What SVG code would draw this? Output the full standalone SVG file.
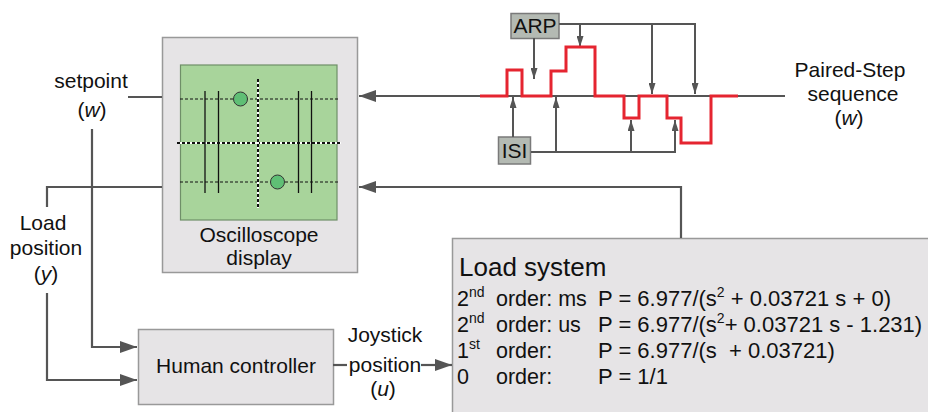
<svg xmlns="http://www.w3.org/2000/svg" width="928" height="412" viewBox="0 0 928 412">
<style>
text{font-family:"Liberation Sans",Arial,sans-serif;fill:#111;}
.lbl{font-size:21px;text-anchor:middle;}
.box{fill:#e6e4e6;stroke:#999;stroke-width:1.5;}
.tag{fill:#b4bab3;stroke:#7a7a7a;stroke-width:1.5;}
.con{fill:none;stroke:#555;stroke-width:2.2;}
.thin{fill:none;stroke:#555;stroke-width:2;}
.row{font-size:21.5px;}
.eq{font-size:22px;}
.sup{font-size:14px;}
</style>
<defs>
<marker id="big" markerUnits="userSpaceOnUse" markerWidth="18" markerHeight="12" refX="17" refY="6" orient="auto">
<path d="M0,0 L17,6 L0,12 Z" fill="#555"/>
</marker>
<marker id="small" markerUnits="userSpaceOnUse" markerWidth="12" markerHeight="7" refX="11" refY="3.5" orient="auto">
<path d="M0,0 L11,3.5 L0,7 Z" fill="#555"/>
</marker>
</defs>
<rect width="928" height="412" fill="#fff"/>

<g id="scope">
<rect class="box" x="162.5" y="37.5" width="195" height="235"/>
<rect x="180.5" y="65" width="156.5" height="155" fill="#a8d49b" stroke="#6f8f68" stroke-width="1.2"/>
<line x1="180" y1="99" x2="338" y2="99" stroke="#111" stroke-width="1" stroke-dasharray="3,2"/>
<line x1="180" y1="182" x2="338" y2="182" stroke="#111" stroke-width="1" stroke-dasharray="3,2"/>
<line x1="177" y1="143" x2="341" y2="143" stroke="#fff" stroke-width="2"/>
<line x1="177" y1="143" x2="341" y2="143" stroke="#111" stroke-width="2" stroke-dasharray="3,2"/>
<line x1="258" y1="79" x2="258" y2="208" stroke="#fff" stroke-width="2"/>
<line x1="258" y1="79" x2="258" y2="208" stroke="#111" stroke-width="2" stroke-dasharray="3,2"/>
<g stroke="#111" stroke-width="1.3">
<line x1="205" y1="91" x2="205" y2="193"/>
<line x1="218.5" y1="91" x2="218.5" y2="193"/>
<line x1="298.5" y1="91" x2="298.5" y2="193"/>
<line x1="311.5" y1="91" x2="311.5" y2="193"/>
</g>
<circle cx="240.5" cy="99" r="7" fill="#5fbf75" stroke="#333" stroke-width="1"/>
<circle cx="277.5" cy="182" r="7" fill="#5fbf75" stroke="#333" stroke-width="1"/>
<text class="lbl" x="259" y="242">Oscilloscope</text>
<text class="lbl" x="259" y="265">display</text>
</g>

<g id="human">
<rect class="box" x="138.5" y="329.5" width="195" height="75"/>
<text class="lbl" x="236" y="373">Human controller</text>
</g>

<g id="load">
<rect class="box" x="452.5" y="238.5" width="480" height="180"/>
<text x="459" y="276" style="font-size:26px">Load system</text>
<g class="row">
<text x="457" y="306">2<tspan dy="-9" class="sup">nd</tspan></text>
<text x="496" y="306">order: ms</text>
<text class="eq" x="598" y="306">P = 6.977/(s<tspan dy="-9" class="sup">2</tspan><tspan dy="9"> + 0.03721 s + 0)</tspan></text>
<text x="457" y="332">2<tspan dy="-9" class="sup">nd</tspan></text>
<text x="496" y="332">order: us</text>
<text class="eq" x="598" y="332">P = 6.977/(s<tspan dy="-9" class="sup">2</tspan><tspan dy="9">+ 0.03721 s - 1.231)</tspan></text>
<text x="457" y="358">1<tspan dy="-9" class="sup">st</tspan></text>
<text x="496" y="358">order:</text>
<text class="eq" x="598" y="358" xml:space="preserve">P = 6.977/(s  + 0.03721)</text>
<text x="457" y="384">0</text>
<text x="496" y="384">order:</text>
<text class="eq" x="598" y="384">P = 1/1</text>
</g>
</g>

<g id="arp">
<rect class="tag" x="511" y="13.5" width="48" height="25"/>
<text class="lbl" x="535" y="33">ARP</text>
</g>
<g id="isi">
<rect class="tag" x="498.5" y="137" width="32" height="27"/>
<text class="lbl" x="514.5" y="158">ISI</text>
</g>

<g id="labels">
<text class="lbl" x="91" y="88">setpoint</text>
<text class="lbl" x="92" y="117">(<tspan font-style="italic">w</tspan>)</text>
<text class="lbl" x="43" y="230">Load</text>
<text class="lbl" x="46" y="255">position</text>
<text class="lbl" x="46" y="281">(<tspan font-style="italic">y</tspan>)</text>
<text class="lbl" x="385" y="342">Joystick</text>
<text class="lbl" x="385" y="372">position</text>
<text class="lbl" x="383" y="396">(<tspan font-style="italic">u</tspan>)</text>
<text class="lbl" x="850" y="77">Paired-Step</text>
<text class="lbl" x="853" y="101">sequence</text>
<text class="lbl" x="849" y="125">(<tspan font-style="italic">w</tspan>)</text>
</g>

<g id="connectors">
<path class="con" d="M785,96 H359" marker-end="url(#big)"/>
<path class="con" d="M681,238 V187 H359" marker-end="url(#big)"/>
<path class="con" d="M162,97 H128"/>
<path class="con" d="M92,129 V347 H137" marker-end="url(#big)"/>
<path class="con" d="M162,187 H47 V207"/>
<path class="con" d="M47,293 V380 H137" marker-end="url(#big)"/>
<path class="con" d="M333,365 H347"/>
<path class="con" d="M421,365 H452" marker-end="url(#big)"/>
<path class="thin" d="M559,24 H695 V94" marker-end="url(#small)"/>
<path class="thin" d="M580,24 V47" marker-end="url(#small)"/>
<path class="thin" d="M652,24 V94" marker-end="url(#small)"/>
<path class="thin" d="M534,38 V79" marker-end="url(#small)"/>
<path class="thin" d="M531,152 H675 V120" marker-end="url(#small)"/>
<path class="thin" d="M556,152 V97" marker-end="url(#small)"/>
<path class="thin" d="M631,152 V120" marker-end="url(#small)"/>
<path class="thin" d="M513,137 V97" marker-end="url(#small)"/>
<path d="M480,96 H507 V70 H522 V96 H551 V71 H566 V47 H595 V96 H624 V118 H639 V96 H667 V118 H681 V143 H711 V96 H738" fill="none" stroke="#e52530" stroke-width="3"/>
</g>
</svg>
